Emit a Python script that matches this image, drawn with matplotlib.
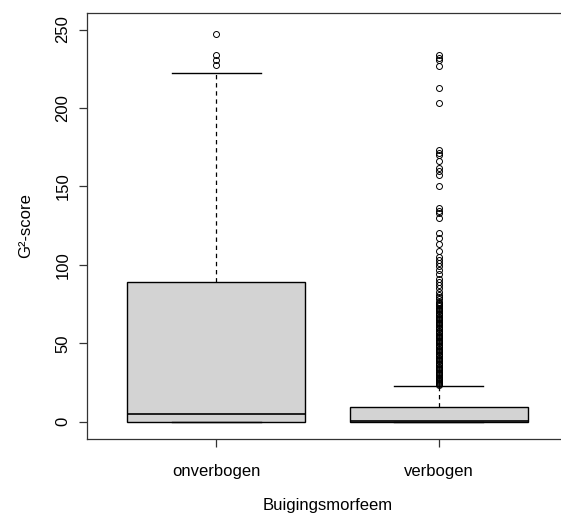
import numpy as np
import matplotlib
matplotlib.use("Agg")
import matplotlib.pyplot as plt

plt.rcParams['font.family'] = ['Liberation Sans', 'DejaVu Sans']

categories = ['onverbogen', 'verbogen']

# box statistics
q1 = [0.0, 0.0]
medians = [4.9, 0.2]
q3 = [89.0, 9.2]
whis_lo = [0.0, 0.0]
whis_hi = [222.3, 22.9]

fliers_onverbogen = [247, 234, 230.5, 227.5]
fliers_verbogen = [
    234, 232, 230.5, 227, 213, 203, 173, 171.5, 170, 166, 162, 160, 157, 150,
    136, 134.5, 133, 130, 120, 117, 113, 109, 105, 103, 101, 99, 97, 94, 91,
    89, 87, 85, 83, 81, 79.5, 78,
    76.5, 75.8, 75, 74.2, 73.5, 72.6, 71.9, 71, 70.3, 69.5, 68.7, 67.8, 67,
    66.2, 65.5, 64.6, 63.8, 63, 62.1, 61.4, 60.5, 59.7, 58.9, 58, 57.3, 56.4,
    55.6, 54.8, 54, 53.1, 52.4, 51.5, 50.7, 49.9, 49, 48.3, 47.4, 46.6, 45.8,
    45, 44.2, 43.3, 42.5, 41.8, 40.9, 40.1, 39.3, 38.5, 37.6, 36.9, 36, 35.2,
    34.4, 33.6, 32.8, 32, 31.1, 30.4, 29.5, 28.8, 28, 27.3, 26.5, 25.8, 25.1,
    24.5, 24, 23.6,
]
fliers = [fliers_onverbogen, fliers_verbogen]

yticks = [0, 50, 100, 150, 200, 250]

stats = []
for i in range(len(categories)):
    stats.append({'label': categories[i], 'q1': q1[i], 'med': medians[i],
                  'q3': q3[i], 'whislo': whis_lo[i], 'whishi': whis_hi[i],
                  'fliers': fliers[i]})

fig = plt.figure(figsize=(5.61, 5.17), dpi=100)
ax = fig.add_axes([0.1551, 0.1514, 0.8574, 0.824])

ax.bxp(stats, positions=[1, 2], widths=0.8, patch_artist=True,
       boxprops=dict(facecolor='#d3d3d3', edgecolor='black', linewidth=1.0),
       medianprops=dict(color='black', linewidth=1.2),
       whiskerprops=dict(color='black', linewidth=0.9, linestyle=(0, (3.5, 3))),
       capprops=dict(color='black', linewidth=1.0),
       flierprops=dict(marker='o', markerfacecolor='none', markeredgecolor='black',
                       markersize=4.3, markeredgewidth=0.7),
       capwidths=0.4)

ax.set_xlim(0.42, 2.58)
ax.set_ylim(-10.8, 260.7)
ax.set_yticks(yticks)
ax.set_yticklabels([str(t) for t in yticks], rotation=90, va='center')
ax.set_xticks([1, 2])
ax.set_xticklabels(categories)
ax.tick_params(axis='both', labelsize=12, length=6, width=0.9, color='#333333')
ax.tick_params(axis='y', pad=6)
ax.tick_params(axis='x', pad=12)
ax.spines['right'].set_visible(False)
for s in ax.spines.values():
    s.set_linewidth(0.9)
    s.set_color('#333333')

ax.set_xlabel('Buigingsmorfeem', fontsize=12, labelpad=14)
ax.set_ylabel('G²-score', fontsize=12, labelpad=16)

plt.savefig('out.png', dpi=100)
